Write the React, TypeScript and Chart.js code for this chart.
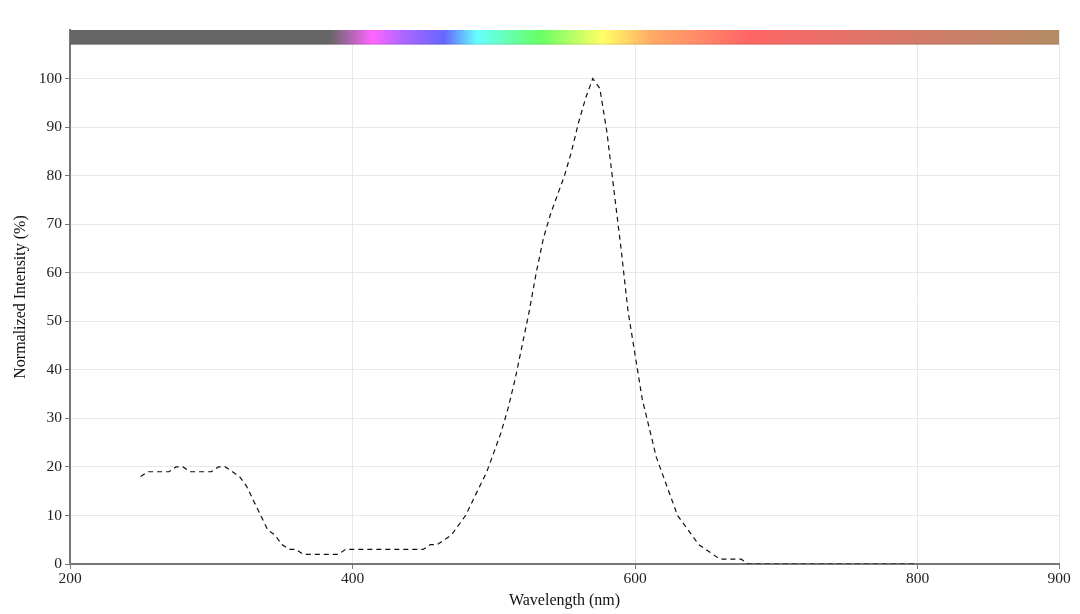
import React, { useEffect, useRef } from "react";
import { Chart, registerables } from "chart.js";

Chart.register(...registerables);

const wavelengths: number[] = [];
for (let w = 250; w <= 800; w += 5) wavelengths.push(w);

const intensity: number[] = [
  18, 19, 19, 19, 19, 20, 20, 19, 19, 19, // 250-295
  19, 20, 20, 19, 18, 16, 13, 10, 7, 6, // 300-345
  4, 3, 3, 2, 2, 2, 2, 2, 2, 3, // 350-395
  3, 3, 3, 3, 3, 3, 3, 3, 3, 3, // 400-445
  3, 4, 4, 5, 6, 8, 10, 13, 16, 19, // 450-495
  23, 27, 32, 38, 45, 52, 60, 67, 72, 76, // 500-545
  80, 85, 91, 96, 100, 98, 89, 77, 65, 52, // 550-595
  43, 34, 28, 22, 18, 14, 10, 8, 6, 4, // 600-645
  3, 2, 1, 1, 1, 1, 0, 0, 0, 0, // 650-695
  0, 0, 0, 0, 0, 0, 0, 0, 0, 0, // 700-745
  0, 0, 0, 0, 0, 0, 0, 0, 0, 0, // 750-795
  0, // 800
];

const xTicks = [200, 400, 600, 800, 900];
const yTicks = [0, 10, 20, 30, 40, 50, 60, 70, 80, 90, 100];

const spectrumStops: [number, string][] = [
  [200, "#666666"],
  [384, "#666666"],
  [414, "#ff66ff"],
  [437, "#aa66ff"],
  [465, "#6666ff"],
  [488, "#66ffff"],
  [532, "#66ff66"],
  [577, "#ffff66"],
  [612, "#ffaa66"],
  [680, "#ff6666"],
  [800, "#d27a68"],
  [900, "#b48c64"],
];

const spectrumBar = {
  id: "spectrumBar",
  afterDatasetsDraw(chart: any) {
    const { ctx, scales } = chart;
    const xs = scales.x;
    const ys = scales.y;
    const x0 = xs.getPixelForValue(xs.min);
    const x1 = xs.getPixelForValue(xs.max);
    const top = ys.getPixelForValue(ys.max);
    const bottom = ys.getPixelForValue(107);
    const grad = ctx.createLinearGradient(x0, 0, x1, 0);
    for (const [nm, col] of spectrumStops) {
      const p = (xs.getPixelForValue(nm) - x0) / (x1 - x0);
      grad.addColorStop(Math.min(1, Math.max(0, p)), col);
    }
    ctx.save();
    ctx.fillStyle = grad;
    ctx.fillRect(x0, top, x1 - x0, bottom - top);
    ctx.fillStyle = "rgba(0,0,0,0.12)";
    ctx.fillRect(x0, bottom - 1, x1 - x0, 1);
    ctx.restore();
  },
};

export default function App() {
  const ref = useRef<HTMLCanvasElement>(null);

  useEffect(() => {
    if (!ref.current) return;
    Chart.defaults.font.family = '"Liberation Serif", "Times New Roman", serif';
    const chart = new Chart(ref.current, {
      type: "line",
      data: {
        datasets: [
          {
            data: wavelengths.map((w, i) => ({ x: w, y: intensity[i] })),
            borderColor: "#111",
            borderWidth: 1.2,
            borderDash: [5, 4],
            pointRadius: 0,
            tension: 0,
            fill: false,
          },
        ],
      },
      options: {
        animation: false,
        responsive: true,
        maintainAspectRatio: false,
        layout: { padding: { top: 30, right: 21, left: 0, bottom: 0 } },
        plugins: {
          legend: { display: false },
          tooltip: { enabled: false },
        },
        scales: {
          x: {
            type: "linear",
            min: 200,
            max: 900,
            afterBuildTicks: (s: any) => {
              s.ticks = xTicks.map((v) => ({ value: v }));
            },
            afterFit: (s: any) => {
              s.height = 50;
            },
            ticks: {
              color: "#222",
              font: { size: 15.5 },
              padding: 1,
              maxRotation: 0,
              autoSkip: false,
            },
            grid: {
              color: "#e8e8e8",
              tickColor: "#777",
              tickLength: 5,
            },
            border: { color: "#777", width: 2 },
            title: {
              display: true,
              text: "Wavelength (nm)",
              color: "#111",
              font: { size: 16 },
              padding: { top: 0, bottom: 4 },
            },
          },
          y: {
            type: "linear",
            min: 0,
            max: 110,
            afterBuildTicks: (s: any) => {
              s.ticks = yTicks.map((v) => ({ value: v }));
            },
            afterFit: (s: any) => {
              s.width = 70;
            },
            ticks: {
              color: "#222",
              font: { size: 15.5 },
              padding: 3,
              autoSkip: false,
            },
            grid: {
              color: "#e8e8e8",
              tickColor: "#777",
              tickLength: 5,
            },
            border: { color: "#777", width: 2 },
            title: {
              display: true,
              text: "Normalized Intensity (%)",
              color: "#111",
              font: { size: 16 },
              padding: { top: 11, bottom: 0 },
            },
          },
        },
      },
      plugins: [spectrumBar],
    });
    return () => chart.destroy();
  }, []);

  return (
    <div style={{ position: "fixed", left: 0, top: 0, width: 1080, height: 614, background: "#fff" }}>
      <canvas ref={ref} />
    </div>
  );
}
